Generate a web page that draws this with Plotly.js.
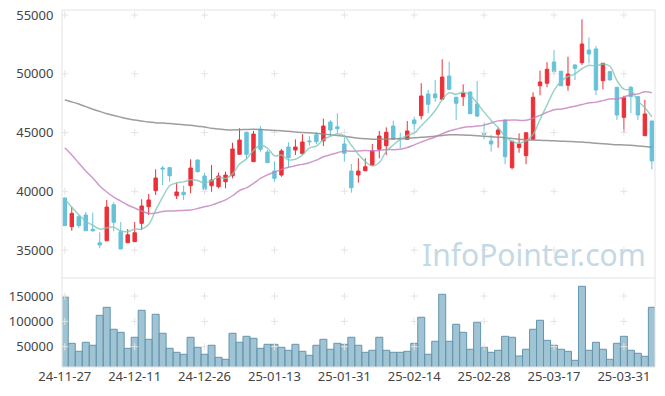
<!DOCTYPE html>
<html>
<head>
<meta charset="utf-8">
<script src="https://cdn.plot.ly/plotly-3.0.1.min.js"></script>
<style>html,body{margin:0;padding:0;background:#fff;}#chart{width:665px;height:396px;}</style>
</head>
<body>
<div id="chart"></div>
<script>
var dates = ["24-11-27","24-11-28","24-11-29","24-12-02","24-12-03","24-12-04","24-12-05","24-12-06","24-12-09","24-12-10",
"24-12-11","24-12-12","24-12-13","24-12-16","24-12-17","24-12-18","24-12-19","24-12-20","24-12-23","24-12-24",
"24-12-26","24-12-27","24-12-30","25-01-02","25-01-03","25-01-06","25-01-07","25-01-08","25-01-09","25-01-10",
"25-01-13","25-01-14","25-01-15","25-01-16","25-01-17","25-01-20","25-01-21","25-01-22","25-01-23","25-01-24",
"25-01-31","25-02-03","25-02-04","25-02-05","25-02-06","25-02-07","25-02-10","25-02-11","25-02-12","25-02-13",
"25-02-14","25-02-17","25-02-18","25-02-19","25-02-20","25-02-21","25-02-24","25-02-25","25-02-26","25-02-27",
"25-02-28","25-03-04","25-03-05","25-03-06","25-03-07","25-03-10","25-03-11","25-03-12","25-03-13","25-03-14",
"25-03-17","25-03-18","25-03-19","25-03-20","25-03-21","25-03-24","25-03-25","25-03-26","25-03-27","25-03-28",
"25-03-31","25-04-01","25-04-02","25-04-03","25-04-04"];

var openP = [39430,36980,37835,37980,36760,35620,35790,38860,36560,35620,
35710,37270,38690,40050,41980,42010,39620,39910,40470,42660,
41300,40470,40390,40810,41320,43150,45020,42520,45270,43340,
41720,41380,43770,43510,43200,44280,44810,44300,45890,45490,
44020,41720,41380,41750,42230,43570,43880,45550,44520,44420,
46070,46430,48280,48280,47830,49810,48000,48050,48450,47430,
44930,44280,44850,46070,42010,43710,43030,44420,48980,49190,
51000,50210,49020,50750,50940,52020,52110,49410,50180,48850,
46290,48850,48050,44730,45980];
var highP = [39450,38690,37980,38240,38180,36510,39260,39060,37380,36790,
37380,39320,39770,41870,42150,42020,40730,40470,42720,42700,
41580,42240,41580,41670,44130,45360,45050,45150,45550,43500,
42550,43600,44170,44420,44850,44700,45020,46180,46070,46640,
44590,42320,42810,42810,44020,45130,45440,46010,44980,45980,
46350,49190,48620,49470,51230,51030,48050,49100,48470,49380,
45840,44790,45410,46100,44260,44930,44990,48420,50260,50980,
52020,50250,51450,50800,54630,53100,52360,50890,50200,48870,
48130,48960,48100,47770,46000];
var lowP = [37050,36640,36900,36640,36560,35150,35760,36590,35080,35600,
35700,36700,37980,39680,40530,40810,39340,39260,39830,41600,
39830,39960,40250,40250,41100,43100,42800,42500,43370,42430,
40810,41240,42040,43090,43150,43880,44020,43850,44640,44930,
42520,39880,40730,41700,42200,42810,43090,44400,43660,44400,
45070,46120,46640,47620,47800,48600,46070,47260,46600,46300,
44420,43370,43710,42300,41870,43280,42300,44400,48170,48850,
49980,48980,48560,49470,50750,50890,48190,48680,49470,46070,
44980,46640,46070,44700,41870];
var closeP = [37070,38120,37070,36640,36640,35430,38660,37360,35090,36300,
36470,38750,39260,41130,41900,41320,39940,39710,41980,41670,
40170,40960,41300,41380,43600,44360,43150,44870,43570,42430,
41100,43430,42860,43770,44190,44220,44220,45550,45210,45320,
43230,40300,41720,42090,43450,44700,45020,44420,44450,45130,
45750,48110,47400,47960,49720,48680,47490,48340,46600,46400,
44850,44020,45210,42940,44250,44020,44980,48000,49300,50380,
50180,48980,49980,50460,52530,51680,48620,50890,49470,46490,
47960,48050,46490,46580,42580];

var ma5 = [39320,38650,38000,37450,37108,36780,36888,36946,36636,36568,
36776,36794,37174,38382,39502,40472,40710,40800,40970,40924,
40694,40898,41216,41096,41482,42320,42758,43472,43910,43676,
43024,43080,42678,42718,43070,43694,43852,44390,44678,44904,
44706,43922,43156,42532,42158,42452,43396,43936,44408,44744,
44954,45572,46168,46870,47788,48374,48250,48438,48166,47502,
46736,46042,45416,44684,44254,44088,44280,44838,46110,47336,
48568,49368,49764,49996,50426,50726,50654,50836,50638,49430,
48686,48572,47692,47114,46332];
var ma20 = [43700,43090,42400,41720,41130,40450,39940,39510,39170,38830,
38575,38320,38110,38150,38280,38320,38350,38370,38400,38526,
38681,38823,39034,39271,39619,40066,40290,40666,41090,41396,
41628,41862,42042,42174,42288,42433,42647,42939,43101,43283,
43436,43403,43424,43460,43452,43469,43563,43540,43584,43719,
43952,44186,44413,44622,44899,45122,45285,45425,45494,45548,
45629,45815,45990,46032,46072,46038,46036,46215,46458,46720,
46942,46985,47114,47239,47380,47530,47586,47714,47857,47862,
48017,48219,48283,48465,48381];
var ma60 = [47760,47600,47420,47200,46980,46800,46600,46450,46310,46180,
46070,45980,45890,45840,45800,45760,45710,45660,45620,45530,
45470,45360,45300,45240,45220,45240,45260,45270,45250,45220,
45180,45150,45100,45050,45000,44970,44940,44870,44800,44740,
44680,44590,44520,44470,44430,44430,44440,44460,44470,44500,
44550,44590,44630,44680,44750,44800,44810,44790,44760,44720,
44680,44640,44600,44560,44500,44430,44390,44360,44340,44310,
44290,44260,44240,44210,44190,44140,44090,44040,44000,43960,
43940,43910,43860,43800,43740];

var volume = [148200,56700,40900,58700,52800,112000,127800,84400,78400,46800,
68600,121900,64600,114000,76500,46800,38900,35000,68600,48800,
35000,52800,29000,25100,76500,58700,70500,66600,46800,54700,
54700,48800,42900,54700,40900,33000,52800,64600,44900,56700,
54700,68600,52800,38900,42900,68600,42900,38900,38900,40900,
56700,108100,35000,60700,153500,60700,94300,78400,44900,98200,
48800,38900,42900,70500,68600,31600,44900,84400,102200,62600,
52800,44900,40900,23100,169300,42900,58700,44900,25100,56700,
70500,42900,37000,31000,127800];

var xTicks = ["24-11-27","24-12-11","24-12-26","25-01-13","25-01-31","25-02-14","25-02-28","25-03-17","25-03-31"];
var priceTicks = [35000,40000,45000,50000,55000];
var volTicks = [50000,100000,150000];

// grid crosses at tick intersections
var gx1=[],gy1=[],gx2=[],gy2=[];
xTicks.forEach(function(t){
  priceTicks.forEach(function(v){gx1.push(t);gy1.push(v);});
  volTicks.forEach(function(v){gx2.push(t);gy2.push(v);});
});

var FONT = "Noto Sans, Open Sans, sans-serif";
var split = 0.2493;

var traces = [
  {type:'scatter',mode:'markers',x:gx1,y:gy1,xaxis:'x',yaxis:'y',hoverinfo:'skip',
   marker:{symbol:'cross-thin',size:5,line:{color:'#e4e4e4',width:1}},showlegend:false},
  {type:'scatter',mode:'markers',x:gx2,y:gy2,xaxis:'x',yaxis:'y2',hoverinfo:'skip',
   marker:{symbol:'cross-thin',size:5,line:{color:'#e4e4e4',width:1}},showlegend:false},
  {type:'bar',x:dates,y:volume,xaxis:'x',yaxis:'y2',
   marker:{color:'rgba(128,176,198,0.75)',line:{color:'#6495ae',width:1}},showlegend:false},
  {type:'candlestick',x:dates,open:openP,high:highP,low:lowP,close:closeP,xaxis:'x',yaxis:'y',
   whiskerwidth:0,
   increasing:{line:{color:'#ec3038',width:1},fillcolor:'#ec3038'},
   decreasing:{line:{color:'#67c2d9',width:1},fillcolor:'#67c2d9'},showlegend:false},
  {type:'scatter',mode:'lines',x:dates,y:ma60,xaxis:'x',yaxis:'y',
   line:{color:'rgba(140,140,140,0.85)',width:1.5,shape:'spline'},showlegend:false},
  {type:'scatter',mode:'lines',x:dates,y:ma20,xaxis:'x',yaxis:'y',
   line:{color:'rgba(196,128,190,0.8)',width:1.5,shape:'spline'},showlegend:false},
  {type:'scatter',mode:'lines',x:dates,y:ma5,xaxis:'x',yaxis:'y',
   line:{color:'rgba(128,200,184,0.8)',width:1.5,shape:'spline'},showlegend:false}
];

var layout = {
  width:665,height:396,
  margin:{l:62,r:10,t:10,b:29,pad:0},
  paper_bgcolor:'#ffffff',plot_bgcolor:'#ffffff',
  showlegend:false,
  bargap:0,
  font:{family:FONT,size:13,color:'#444'},
  xaxis:{type:'category',anchor:'y2',range:[-0.4,84.45],
    categoryorder:'array',categoryarray:dates,
    tickmode:'array',tickvals:xTicks,ticktext:xTicks,
    showgrid:false,zeroline:false,showline:false,
    ticks:'',
    tickfont:{family:FONT,size:13,color:'#444'},
    rangeslider:{visible:false},fixedrange:true},
  yaxis:{domain:[split,1],range:[32620,55425],
    tickmode:'array',tickvals:priceTicks,tickformat:'d',
    showgrid:false,zeroline:false,showline:false,
    ticks:'outside',ticklen:5,tickcolor:'rgba(0,0,0,0)',
    tickfont:{family:FONT,size:13,color:'#444'}},
  yaxis2:{domain:[0,split],range:[9880,185700],
    tickmode:'array',tickvals:volTicks,tickformat:'d',
    showgrid:false,zeroline:false,showline:false,
    ticks:'outside',ticklen:5,tickcolor:'rgba(0,0,0,0)',
    tickfont:{family:FONT,size:13,color:'#444'}},
  shapes:[
    {type:'rect',xref:'paper',yref:'paper',x0:0,x1:1,y0:0,y1:1,line:{color:'#e3e3e3',width:1},layer:'above'},
    {type:'line',xref:'paper',yref:'paper',x0:0,x1:1,y0:split,y1:split,line:{color:'#e3e3e3',width:1},layer:'above'}
  ],
  annotations:[
    {text:'InfoPointer.com',xref:'paper',yref:'paper',x:0.988,y:0.3165,xanchor:'right',yanchor:'middle',
     showarrow:false,font:{family:FONT,size:30,color:'#c4d9e4'}}
  ]
};

Plotly.newPlot('chart',traces,layout,{displayModeBar:false,staticPlot:true});
</script>
</body>
</html>
